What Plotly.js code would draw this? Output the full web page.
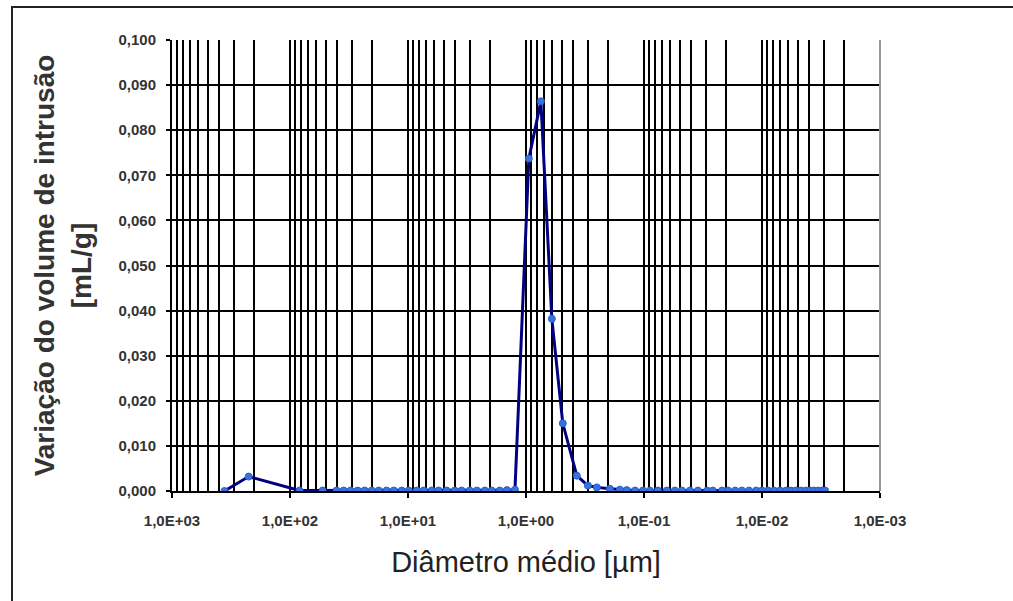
<!DOCTYPE html>
<html>
<head>
<meta charset="utf-8">
<script src="https://cdn.plot.ly/plotly-3.0.1.min.js"></script>
<style>
html,body{margin:0;padding:0;background:#fff;}
#frame{position:absolute;left:11px;top:6px;width:1002px;height:595px;border-top:2px solid #222;border-left:2px solid #222;box-sizing:border-box;}
#chart{position:absolute;left:0;top:0;width:1013px;height:601px;}
</style>
</head>
<body>
<div id="frame"></div>
<div id="chart"></div>
<script>
// Diâmetro médio [µm]
const diametro = [359, 224, 83, 52.9, 40.3, 35.1, 30.6, 26.7, 23.3, 20.3, 17.7, 15.2, 13.2, 11.3, 9.86, 8.43, 7.36, 6.30, 5.50, 4.70, 4.02, 3.51, 3.00, 2.61, 2.23, 1.95, 1.67, 1.45, 1.24,
  0.946, 0.748, 0.604, 0.488, 0.371, 0.299, 0.251, 0.195, 0.160, 0.140, 0.119, 0.102, 0.0891, 0.0762, 0.0640, 0.0547, 0.0477, 0.0408, 0.0349, 0.0292, 0.0261, 0.0218, 0.0194,
  0.0169, 0.0148, 0.0129, 0.0112, 0.0100, 0.00889, 0.00791, 0.00703, 0.00625, 0.00568, 0.00515, 0.00467, 0.00424, 0.00392, 0.00362, 0.00335, 0.00310, 0.00292];
// Variação do volume de intrusão [mL/g]
const variacao = [0.0000, 0.0032, 0.0001, 0.0001, 0.0001, 0.0001, 0.0001, 0.0001, 0.0001, 0.0001, 0.0001, 0.0001, 0.0001, 0.0001, 0.0001, 0.0001, 0.0001, 0.0001, 0.0001, 0.0001, 0.0001, 0.0001, 0.0001, 0.0001, 0.0001, 0.0001, 0.0001, 0.0002, 0.0003,
  0.0737, 0.0864, 0.0382, 0.0150, 0.0034, 0.0012, 0.0008, 0.0005, 0.0003, 0.0002, 0.0001, 0.0001, 0.0001, 0.0001, 0.0001, 0.0001, 0.0001, 0.0001, 0.0001, 0.0001, 0.0001, 0.0001, 0.0001,
  0.0001, 0.0001, 0.0001, 0.0001, 0.0001, 0.0001, 0.0001, 0.0001, 0.0001, 0.0001, 0.0001, 0.0001, 0.0001, 0.0001, 0.0001, 0.0001, 0.0001, 0.0001];
const xTickVals = [1000, 100, 10, 1, 0.1, 0.01, 0.001];
const xTickText = ['1,0E+03', '1,0E+02', '1,0E+01', '1,0E+00', '1,0E-01', '1,0E-02', '1,0E-03'];
const yTickVals = [0, 0.01, 0.02, 0.03, 0.04, 0.05, 0.06, 0.07, 0.08, 0.09, 0.1];

const trace = {
  x: diametro, y: variacao, type: 'scatter', mode: 'lines+markers',
  line: {color: '#000080', width: 3},
  marker: {symbol: 'circle', size: 7, color: '#3a72dc', line: {color: '#2a5fd0', width: 1}},
  hoverinfo: 'x+y'
};

const layout = {
  width: 1013, height: 601,
  margin: {l: 172, r: 133, t: 40, b: 110},
  paper_bgcolor: 'rgba(0,0,0,0)', plot_bgcolor: '#fff',
  separators: ',.',
  font: {family: 'Arial, "Liberation Sans", sans-serif', color: '#222'},
  showlegend: false,
  xaxis: {
    type: 'log', range: [3, -3],
    tickmode: 'array', tickvals: xTickVals, ticktext: xTickText,
    tickfont: {size: 15, color: '#333', weight: 'bold'},
    ticks: 'outside', ticklen: 5, tickwidth: 2, tickcolor: '#000',
    ticklabelstandoff: 10,
    showgrid: true, gridcolor: '#000', gridwidth: 2,
    minor: {dtick: 'D1', showgrid: true, gridcolor: '#000', gridwidth: 2, ticks: ''},
    showline: true, linecolor: '#000', linewidth: 2, mirror: false,
    zeroline: false,
    title: {text: 'Diâmetro médio [µm]', font: {size: 29, color: '#222'}, standoff: 24}
  },
  yaxis: {
    range: [0, 0.1], tickmode: 'array', tickvals: yTickVals, tickformat: '.3f',
    tickfont: {size: 15, color: '#333', weight: 'bold'},
    ticks: 'outside', ticklen: 4, tickwidth: 2, tickcolor: '#000',
    ticklabelstandoff: 7,
    showgrid: true, gridcolor: '#000', gridwidth: 2,
    showline: true, linecolor: '#000', linewidth: 2,
    zeroline: false,
    title: {text: 'Variação do volume de intrusão<br>[mL/g]', font: {size: 28, color: '#333', weight: 'bold'}, standoff: 19}
  },
  shapes: [
    {type: 'line', xref: 'paper', yref: 'paper', x0: 1, x1: 1, y0: 0, y1: 1, line: {color: '#999', width: 2}}
  ]
};

Plotly.newPlot('chart', [trace], layout, {displayModeBar: false, staticPlot: true});
</script>
</body>
</html>
